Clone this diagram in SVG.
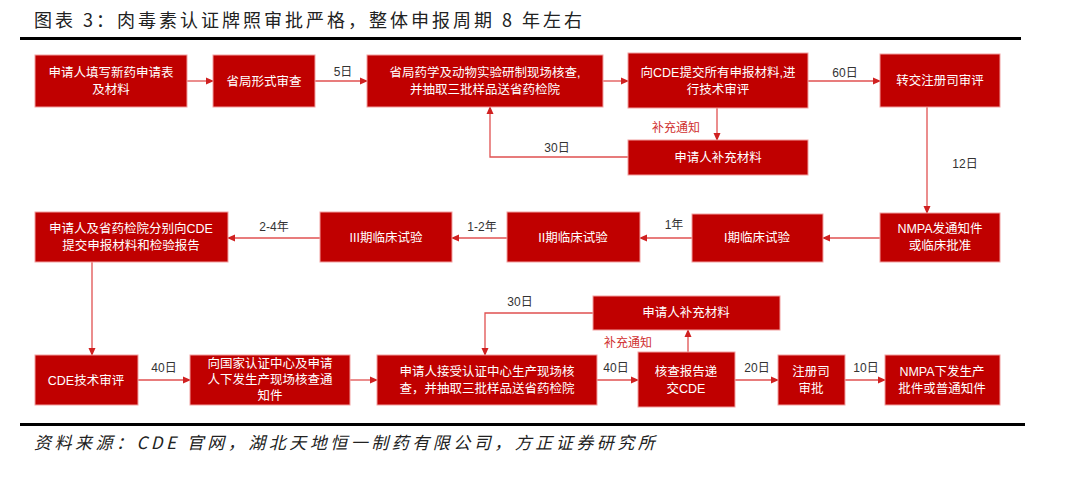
<svg xmlns="http://www.w3.org/2000/svg" width="1080" height="478" viewBox="0 0 1080 478">
<style>
.b{fill:#C00000;stroke:#f2a0a0;stroke-width:1}
.t{font-family:"Liberation Sans","Noto Sans CJK SC",sans-serif;font-size:12.5px;fill:#fff;text-anchor:middle}
.l{font-family:"Liberation Sans","Noto Sans CJK SC",sans-serif;font-size:12px;fill:#333;text-anchor:middle}
.r{font-family:"Noto Sans CJK SC",sans-serif;font-size:12px;fill:#d03030;text-anchor:middle}
.c{fill:none;stroke:#e05050;stroke-width:1.3}
</style>
<defs><marker id="a" markerWidth="8" markerHeight="8" refX="7" refY="4" orient="auto" markerUnits="userSpaceOnUse"><path d="M0,0.5 L8,4 L0,7.5 Z" fill="#d02020"/></marker></defs>
<rect width="1080" height="478" fill="#fff"/>
<text x="34" y="27" font-family="Noto Sans CJK SC,sans-serif" font-size="18" letter-spacing="3" fill="#222">图表 3：肉毒素认证牌照审批严格，整体申报周期 8 年左右</text>
<rect x="20" y="37" width="1001" height="3" fill="#000"/>
<rect x="20" y="423" width="1005" height="3" fill="#000"/>
<text x="34" y="449" font-family="Noto Sans CJK SC,sans-serif" font-size="17" font-style="italic" letter-spacing="3.5" fill="#222">资料来源：CDE 官网，湖北天地恒一制药有限公司，方正证券研究所</text>
<g id="connectors">
<path class="c" marker-end="url(#a)" d="M187,81 H213"/>
<path class="c" marker-end="url(#a)" d="M315,81 H367"/>
<path class="c" marker-end="url(#a)" d="M603,81 H628"/>
<path class="c" marker-end="url(#a)" d="M808,81 H880"/>
<path class="c" marker-end="url(#a)" d="M717,108 V140"/>
<path class="c" marker-end="url(#a)" d="M628,157 H490 V107"/>
<path class="c" marker-end="url(#a)" d="M927,107 V213"/>
<path class="c" marker-end="url(#a)" d="M880,238 H823"/>
<path class="c" marker-end="url(#a)" d="M692,238 H640"/>
<path class="c" marker-end="url(#a)" d="M507,238 H452"/>
<path class="c" marker-end="url(#a)" d="M320,238 H228"/>
<path class="c" marker-end="url(#a)" d="M92,262 V355"/>
<path class="c" marker-end="url(#a)" d="M138,380 H190"/>
<path class="c" marker-end="url(#a)" d="M350,380 H377"/>
<path class="c" marker-end="url(#a)" d="M597,380 H638"/>
<path class="c" marker-end="url(#a)" d="M735,380 H778"/>
<path class="c" marker-end="url(#a)" d="M845,380 H885"/>
<path class="c" marker-end="url(#a)" d="M688,352 V330"/>
<path class="c" marker-end="url(#a)" d="M593,313 H485 V355"/>
<text class="l" x="343" y="76">5日</text>
<text class="l" x="845" y="77">60日</text>
<text class="r" x="676" y="132">补充通知</text>
<text class="l" x="557" y="152">30日</text>
<text class="l" x="965" y="168">12日</text>
<text class="l" x="674" y="229">1年</text>
<text class="l" x="482" y="231">1-2年</text>
<text class="l" x="274" y="231">2-4年</text>
<text class="l" x="164" y="372">40日</text>
<text class="l" x="616" y="372">40日</text>
<text class="l" x="757" y="372">20日</text>
<text class="l" x="866" y="372">10日</text>
<text class="r" x="628" y="347">补充通知</text>
<text class="l" x="520" y="306">30日</text>
</g>
<g id="n1"><rect class="b" x="35" y="55" width="152" height="52"/><text class="t" x="111" y="77">申请人填写新药申请表</text><text class="t" x="111" y="94">及材料</text></g>
<g id="n2"><rect class="b" x="213" y="55" width="102" height="52"/><text class="t" x="264" y="86">省局形式审查</text></g>
<g id="n3"><rect class="b" x="367" y="55" width="236" height="52"/><text class="t" x="485" y="77">省局药学及动物实验研制现场核查,</text><text class="t" x="485" y="94">并抽取三批样品送省药检院</text></g>
<g id="n4"><rect class="b" x="628" y="53" width="180" height="55"/><text class="t" x="718" y="77">向CDE提交所有申报材料,进</text><text class="t" x="718" y="94">行技术审评</text></g>
<g id="n5"><rect class="b" x="880" y="54" width="120" height="53"/><text class="t" x="940" y="85">转交注册司审评</text></g>
<g id="n6"><rect class="b" x="628" y="140" width="180" height="35"/><text class="t" x="718" y="162">申请人补充材料</text></g>
<g id="n7"><rect class="b" x="880" y="213" width="120" height="49"/><text class="t" x="940" y="233">NMPA发通知件</text><text class="t" x="940" y="250">或临床批准</text></g>
<g id="n8"><rect class="b" x="692" y="214" width="131" height="48"/><text class="t" x="757" y="242">I期临床试验</text></g>
<g id="n9"><rect class="b" x="507" y="212" width="133" height="50"/><text class="t" x="573" y="242">II期临床试验</text></g>
<g id="n10"><rect class="b" x="320" y="212" width="132" height="50"/><text class="t" x="386" y="242">III期临床试验</text></g>
<g id="n11"><rect class="b" x="35" y="212" width="193" height="50"/><text class="t" x="131" y="233">申请人及省药检院分别向CDE</text><text class="t" x="131" y="250">提交申报材料和检验报告</text></g>
<g id="n12"><rect class="b" x="35" y="355" width="103" height="50"/><text class="t" x="86" y="385">CDE技术审评</text></g>
<g id="n13"><rect class="b" x="190" y="355" width="160" height="50"/><text class="t" x="270" y="368">向国家认证中心及申请</text><text class="t" x="270" y="384">人下发生产现场核查通</text><text class="t" x="270" y="400">知件</text></g>
<g id="n14"><rect class="b" x="377" y="355" width="220" height="50"/><text class="t" x="487" y="376">申请人接受认证中心生产现场核</text><text class="t" x="487" y="393">查，并抽取三批样品送省药检院</text></g>
<g id="n15"><rect class="b" x="638" y="352" width="97" height="55"/><text class="t" x="686" y="376">核查报告递</text><text class="t" x="686" y="393">交CDE</text></g>
<g id="n16"><rect class="b" x="778" y="355" width="67" height="50"/><text class="t" x="811" y="376">注册司</text><text class="t" x="811" y="393">审批</text></g>
<g id="n17"><rect class="b" x="885" y="355" width="115" height="50"/><text class="t" x="942" y="376">NMPA下发生产</text><text class="t" x="942" y="393">批件或普通知件</text></g>
<g id="n18"><rect class="b" x="593" y="296" width="187" height="34"/><text class="t" x="686" y="317">申请人补充材料</text></g>
</svg>
